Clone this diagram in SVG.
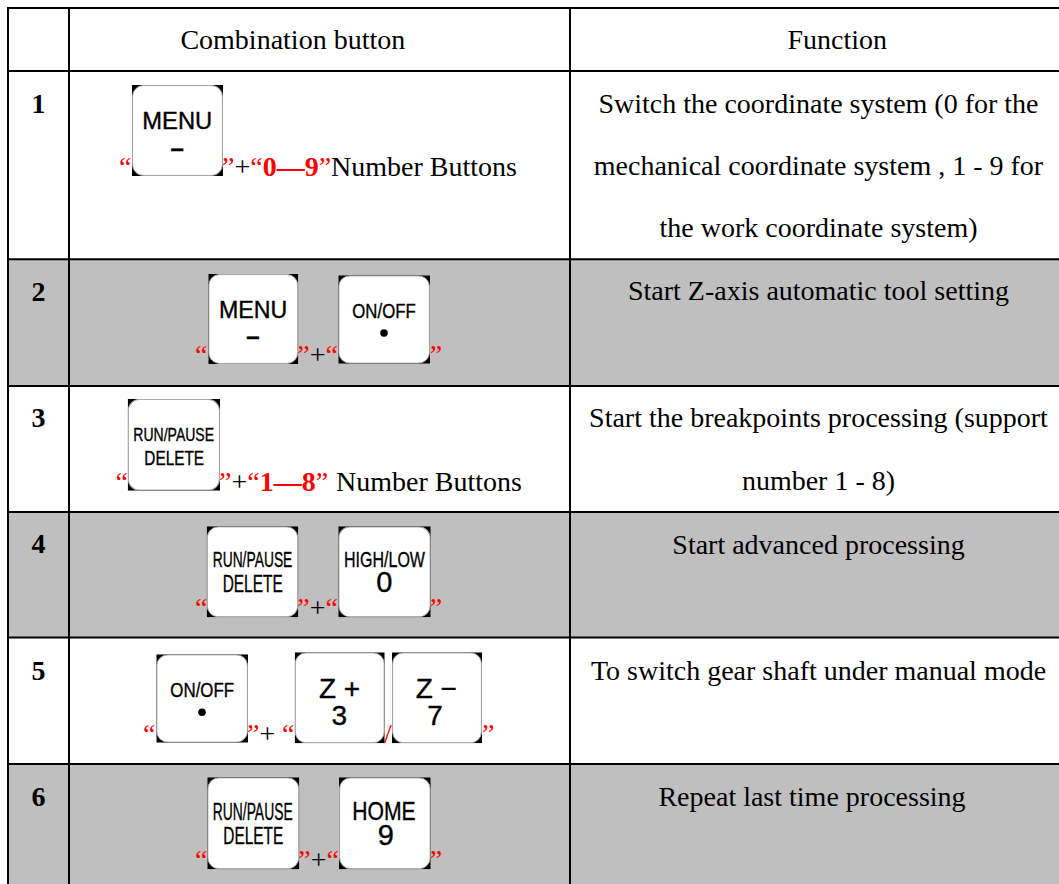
<svg xmlns="http://www.w3.org/2000/svg" width="1059" height="884" viewBox="0 0 1059 884">
<defs>
<style>
.t{font-family:"Liberation Serif","Times New Roman",serif;font-size:28px;fill:#000}
.c{text-anchor:middle}
.n{font-weight:bold}
.r{fill:#f00}
.k{font-family:"Liberation Sans",Arial,sans-serif;fill:#000;text-anchor:middle;stroke:#000;stroke-width:0.35}
.m{font-weight:bold;font-size:24px}
.grid line{stroke:#000;stroke-width:2}
.gray{fill:#bfbfbf}
</style>
<symbol id="keycap" viewBox="0 0 92 92" preserveAspectRatio="none">
<rect width="92" height="92" fill="#000"/>
<rect x="0.6" y="0.6" width="90.8" height="90.8" rx="11" fill="#fff" stroke="#aaa" stroke-width="1"/>
</symbol>
</defs>
<rect width="1059" height="884" fill="#fff"/>
<g id="row-shading">
<rect class="gray" x="8" y="259.3" width="1051" height="126.7"/>
<rect class="gray" x="8" y="512" width="1051" height="125.5"/>
<rect class="gray" x="8" y="764" width="1051" height="120"/>
</g>
<g id="grid" class="grid">
<line x1="7" y1="8" x2="1059" y2="8"/>
<line x1="7" y1="71" x2="1059" y2="71"/>
<line x1="7" y1="259.3" x2="1059" y2="259.3"/>
<line x1="7" y1="386" x2="1059" y2="386"/>
<line x1="7" y1="512" x2="1059" y2="512"/>
<line x1="7" y1="637.5" x2="1059" y2="637.5"/>
<line x1="7" y1="764" x2="1059" y2="764"/>
<line x1="8" y1="7" x2="8" y2="884"/>
<line x1="69" y1="7" x2="69" y2="884"/>
<line x1="570" y1="7" x2="570" y2="884"/>
</g>
<g id="connectors"></g>
<g id="header">
<text class="t c" x="292.8" y="49.3">Combination button</text>
<text class="t c" x="837.2" y="49.3">Function</text>
</g>
<g id="row1">
<text class="t c n" x="38.5" y="113.3">1</text>
<g id="key-r1-menu">
<use href="#keycap" x="132" y="85" width="91" height="91"/>
<text class="k" x="177.3" y="129.3" font-size="23.7" textLength="70" lengthAdjust="spacingAndGlyphs">MENU</text>
<text class="k m" x="177.3" y="155.5">–</text>
</g>
<text class="t" y="175.7"><tspan class="r" x="119">“</tspan><tspan class="r" x="222">”</tspan><tspan>+</tspan><tspan class="r">“</tspan><tspan class="r n">0—9</tspan><tspan class="r">”</tspan><tspan>Number Buttons</tspan></text>
<text class="t c" x="818.5" y="113.3">Switch the coordinate system (0 for the</text>
<text class="t c" x="818.5" y="175">mechanical coordinate system , 1 - 9 for</text>
<text class="t c" x="818.5" y="236.7">the work coordinate system)</text>
</g>
<g id="row2">
<text class="t c n" x="38.5" y="301">2</text>
<g id="key-r2-menu">
<use href="#keycap" x="208.3" y="274" width="90" height="90"/>
<text class="k" x="253.2" y="318" font-size="23.3" textLength="68.3" lengthAdjust="spacingAndGlyphs">MENU</text>
<text class="k m" x="253" y="343.7">–</text>
</g>
<g id="key-r2-onoff">
<use href="#keycap" x="338.3" y="275.3" width="91.7" height="88.4"/>
<text class="k" x="384" y="318" font-size="19.6" textLength="63.4" lengthAdjust="spacingAndGlyphs">ON/OFF</text>
<circle cx="384" cy="333" r="3.8" fill="#000"/>
</g>
<text class="t" y="364"><tspan class="r" x="195">“</tspan><tspan class="r" x="297.3">”</tspan><tspan>+</tspan><tspan class="r">“</tspan><tspan class="r" x="429.7">”</tspan></text>
<text class="t c" x="818.5" y="300">Start Z-axis automatic tool setting</text>
</g>
<g id="row3">
<text class="t c n" x="38.5" y="426.7">3</text>
<g id="key-r3-runpause">
<use href="#keycap" x="127.7" y="399" width="92.3" height="91.7"/>
<text class="k" x="173.7" y="441" font-size="18.6" textLength="80.7" lengthAdjust="spacingAndGlyphs">RUN/PAUSE</text>
<text class="k" x="174.2" y="465" font-size="19.6" textLength="59.7" lengthAdjust="spacingAndGlyphs">DELETE</text>
</g>
<text class="t" y="490.7"><tspan class="r" x="115.5">“</tspan><tspan class="r" x="219">”</tspan><tspan>+</tspan><tspan class="r">“</tspan><tspan class="r n">1—8</tspan><tspan class="r">”</tspan><tspan x="336">Number Buttons</tspan></text>
<text class="t c" x="818.5" y="426.7">Start the breakpoints processing (support</text>
<text class="t c" x="818.5" y="490">number 1 - 8)</text>
</g>
<g id="row4">
<text class="t c n" x="38.5" y="553.3">4</text>
<g id="key-r4-runpause">
<use href="#keycap" x="206.7" y="526.3" width="91.6" height="91"/>
<text class="k" x="252.5" y="567.3" font-size="22.3" textLength="79.7" lengthAdjust="spacingAndGlyphs">RUN/PAUSE</text>
<text class="k" x="252.7" y="592" font-size="23" textLength="60" lengthAdjust="spacingAndGlyphs">DELETE</text>
</g>
<g id="key-r4-highlow">
<use href="#keycap" x="338.3" y="526.3" width="92.4" height="91"/>
<text class="k" x="384.5" y="567.3" font-size="22.3" textLength="81" lengthAdjust="spacingAndGlyphs">HIGH/LOW</text>
<text class="k" x="384.2" y="592" font-size="29">0</text>
</g>
<text class="t" y="617.3"><tspan class="r" x="195">“</tspan><tspan class="r" x="297.3">”</tspan><tspan>+</tspan><tspan class="r">“</tspan><tspan class="r" x="429.7">”</tspan></text>
<text class="t c" x="818.5" y="554">Start advanced processing</text>
</g>
<g id="row5">
<text class="t c n" x="38.5" y="680">5</text>
<g id="key-r5-onoff">
<use href="#keycap" x="156.3" y="654.3" width="91.7" height="88.4"/>
<text class="k" x="202.2" y="697.3" font-size="19.6" textLength="63.7" lengthAdjust="spacingAndGlyphs">ON/OFF</text>
<circle cx="202" cy="712.3" r="3.8" fill="#000"/>
</g>
<g id="key-r5-zplus">
<use href="#keycap" x="294.7" y="652.3" width="90" height="91"/>
<text class="k" x="339.5" y="698.3" font-size="28">Z +</text>
<text class="k" x="339.3" y="725" font-size="28">3</text>
</g>
<g id="key-r5-zminus">
<use href="#keycap" x="392" y="652.3" width="90" height="91"/>
<text class="k" x="436.3" y="698.3" font-size="28">Z −</text>
<text class="k" x="435" y="725" font-size="28">7</text>
</g>
<text class="t" y="742.5"><tspan class="r" x="143">“</tspan><tspan class="r" x="247">”</tspan><tspan>+</tspan><tspan class="r" x="282">“</tspan><tspan class="r" x="384">/</tspan><tspan class="r" x="482">”</tspan></text>
<text class="t c" x="818.5" y="680">To switch gear shaft under manual mode</text>
</g>
<g id="row6">
<text class="t c n" x="38.5" y="806">6</text>
<g id="key-r6-runpause">
<use href="#keycap" x="207.3" y="777.3" width="92" height="92"/>
<text class="k" x="252.7" y="820" font-size="23" textLength="80" lengthAdjust="spacingAndGlyphs">RUN/PAUSE</text>
<text class="k" x="253.3" y="844" font-size="23" textLength="60" lengthAdjust="spacingAndGlyphs">DELETE</text>
</g>
<g id="key-r6-home">
<use href="#keycap" x="339" y="777.3" width="91.7" height="92"/>
<text class="k" x="384" y="820" font-size="25.6" textLength="63.4" lengthAdjust="spacingAndGlyphs">HOME</text>
<text class="k" x="385.8" y="845" font-size="29">9</text>
</g>
<text class="t" y="869.3"><tspan class="r" x="195">“</tspan><tspan class="r" x="298.3">”</tspan><tspan>+</tspan><tspan class="r">“</tspan><tspan class="r" x="429.7">”</tspan></text>
<text class="t c" x="812" y="806">Repeat last time processing</text>
</g>
</svg>
